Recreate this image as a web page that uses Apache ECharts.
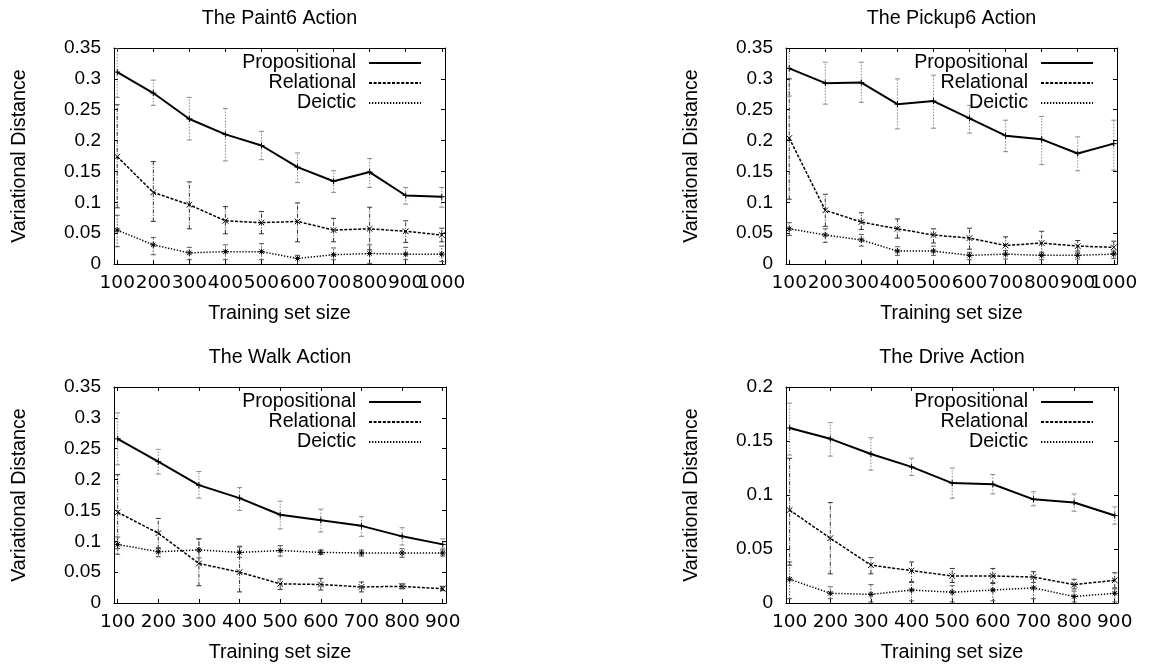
<!DOCTYPE html>
<html><head><meta charset="utf-8">
<script src="https://cdn.jsdelivr.net/npm/echarts@6/dist/echarts.min.js"></script>
<style>html,body{margin:0;padding:0;background:#fff}#c{width:1150px;height:669px}</style>
</head><body><div id="c"></div>
<script>
// ---------- DATA ----------
const sizes10 = [100, 200, 300, 400, 500, 600, 700, 800, 900, 1000];
const sizes9 = [100, 200, 300, 400, 500, 600, 700, 800, 900];
const seriesNames = ['Propositional', 'Relational', 'Deictic'];
const panelTitles = ['The Paint6 Action', 'The Pickup6 Action', 'The Walk Action', 'The Drive Action'];
const xAxisTitle = 'Training set size';
const yAxisTitle = 'Variational Distance';

// Paint6
const paint6Prop   = [0.311, 0.277, 0.235, 0.210, 0.192, 0.157, 0.134, 0.149, 0.111, 0.109];
const paint6PropLo = [0.270, 0.257, 0.201, 0.167, 0.169, 0.132, 0.116, 0.124, 0.097, 0.092];
const paint6PropHi = [0.360, 0.298, 0.270, 0.252, 0.215, 0.180, 0.151, 0.171, 0.124, 0.124];
const paint6Rel    = [0.174, 0.116, 0.096, 0.070, 0.067, 0.069, 0.055, 0.057, 0.053, 0.047];
const paint6RelLo  = [0.091, 0.069, 0.057, 0.049, 0.049, 0.036, 0.036, 0.023, 0.035, 0.036];
const paint6RelHi  = [0.258, 0.166, 0.133, 0.093, 0.085, 0.099, 0.074, 0.092, 0.070, 0.058];
const paint6Dei    = [0.055, 0.031, 0.018, 0.020, 0.020, 0.009, 0.015, 0.017, 0.016, 0.016];
const paint6DeiLo  = [0.028, 0.015, 0.007, 0.007, 0.007, -0.004, 0.007, 0.001, 0.007, 0.004];
const paint6DeiHi  = [0.079, 0.043, 0.027, 0.031, 0.033, 0.014, 0.026, 0.031, 0.027, 0.029];

// Pickup6
const pickup6Prop   = [0.317, 0.293, 0.294, 0.259, 0.264, 0.236, 0.208, 0.202, 0.179, 0.195];
const pickup6PropLo = [0.272, 0.259, 0.262, 0.219, 0.220, 0.212, 0.182, 0.161, 0.151, 0.152];
const pickup6PropHi = [0.360, 0.327, 0.327, 0.300, 0.306, 0.257, 0.233, 0.239, 0.206, 0.233];
const pickup6Rel    = [0.204, 0.087, 0.068, 0.057, 0.047, 0.042, 0.030, 0.034, 0.029, 0.027];
const pickup6RelLo  = [0.105, 0.061, 0.056, 0.042, 0.034, 0.024, 0.015, 0.015, 0.021, 0.017];
const pickup6RelHi  = [0.300, 0.113, 0.083, 0.073, 0.057, 0.058, 0.044, 0.053, 0.038, 0.037];
const pickup6Dei    = [0.057, 0.047, 0.039, 0.021, 0.021, 0.014, 0.016, 0.014, 0.014, 0.016];
const pickup6DeiLo  = [0.046, 0.035, 0.029, 0.014, 0.014, 0.007, 0.008, 0.007, 0.008, 0.009];
const pickup6DeiHi  = [0.067, 0.057, 0.048, 0.028, 0.029, 0.019, 0.022, 0.019, 0.018, 0.021];

// Walk
const walkProp   = [0.266, 0.229, 0.191, 0.170, 0.143, 0.134, 0.125, 0.108, 0.095];
const walkPropLo = [0.224, 0.209, 0.170, 0.150, 0.120, 0.115, 0.108, 0.094, 0.088];
const walkPropHi = [0.308, 0.249, 0.213, 0.187, 0.165, 0.152, 0.140, 0.122, 0.104];
const walkRel    = [0.147, 0.113, 0.064, 0.050, 0.031, 0.030, 0.026, 0.027, 0.023];
const walkRelLo  = [0.088, 0.088, 0.028, 0.018, 0.022, 0.021, 0.018, 0.023, 0.020];
const walkRelHi  = [0.208, 0.137, 0.104, 0.091, 0.039, 0.040, 0.034, 0.031, 0.027];
const walkDei    = [0.095, 0.083, 0.086, 0.082, 0.085, 0.082, 0.081, 0.081, 0.081];
const walkDeiLo  = [0.079, 0.075, 0.073, 0.074, 0.076, 0.079, 0.076, 0.074, 0.076];
const walkDeiHi  = [0.107, 0.090, 0.104, 0.092, 0.093, 0.086, 0.086, 0.088, 0.086];

// Drive
const driveProp   = [0.162, 0.152, 0.138, 0.126, 0.111, 0.110, 0.096, 0.093, 0.081];
const drivePropLo = [0.137, 0.136, 0.123, 0.118, 0.097, 0.101, 0.090, 0.085, 0.073];
const drivePropHi = [0.185, 0.167, 0.153, 0.134, 0.125, 0.119, 0.103, 0.101, 0.089];
const driveRel    = [0.086, 0.060, 0.035, 0.030, 0.025, 0.025, 0.024, 0.017, 0.021];
const driveRelLo  = [0.035, 0.027, 0.027, 0.019, 0.019, 0.018, 0.019, 0.013, 0.014];
const driveRelHi  = [0.134, 0.093, 0.042, 0.038, 0.032, 0.032, 0.029, 0.022, 0.028];
const driveDei    = [0.022, 0.009, 0.008, 0.012, 0.010, 0.012, 0.014, 0.006, 0.009];
const driveDeiLo  = [0.004, 0.004, 0.001, 0.002, 0.001, 0.002, 0.004, 0.001, 0.001];
const driveDeiHi  = [0.038, 0.015, 0.017, 0.020, 0.016, 0.019, 0.019, 0.011, 0.013];

// ---------- PANELS ----------
const panels = [
  { title: panelTitles[0], x: sizes10, xMin: 91, xMax: 1009, yMax: 0.35,
    data: { Propositional: [paint6Prop, paint6PropLo, paint6PropHi], Relational: [paint6Rel, paint6RelLo, paint6RelHi], Deictic: [paint6Dei, paint6DeiLo, paint6DeiHi] } },
  { title: panelTitles[1], x: sizes10, xMin: 91, xMax: 1009, yMax: 0.35,
    data: { Propositional: [pickup6Prop, pickup6PropLo, pickup6PropHi], Relational: [pickup6Rel, pickup6RelLo, pickup6RelHi], Deictic: [pickup6Dei, pickup6DeiLo, pickup6DeiHi] } },
  { title: panelTitles[2], x: sizes9, xMin: 91, xMax: 908, yMax: 0.35,
    data: { Propositional: [walkProp, walkPropLo, walkPropHi], Relational: [walkRel, walkRelLo, walkRelHi], Deictic: [walkDei, walkDeiLo, walkDeiHi] } },
  { title: panelTitles[3], x: sizes9, xMin: 91, xMax: 908, yMax: 0.2,
    data: { Propositional: [driveProp, drivePropLo, drivePropHi], Relational: [driveRel, driveRelLo, driveRelHi], Deictic: [driveDei, driveDeiLo, driveDeiHi] } }
];

// ---------- LAYOUT / STYLE ----------
const FONT = '"Liberation Sans", Arial, Helvetica, sans-serif';
const layout = [
  { left: 114, top: 48,  width: 331, height: 216, legendRight: 728, legendTop: 53 },
  { left: 786, top: 48,  width: 331, height: 216, legendRight: 56,  legendTop: 53 },
  { left: 114, top: 387, width: 332, height: 216, legendRight: 728, legendTop: 392 },
  { left: 786, top: 387, width: 332, height: 216, legendRight: 56,  legendTop: 392 }
];
const lineStyles = {
  Propositional: { type: 'solid', width: 2 },
  Relational: { type: [3, 1.6], width: 1.5 },
  Deictic: { type: [1.3, 1.7], width: 1.5 }
};
const errStyles = {
  Propositional: { stroke: '#8c8c8c', lineDash: [1.5, 1.5] },
  Relational: { stroke: '#333333', lineDash: [4, 1.5, 1, 1.5] },
  Deictic: { stroke: '#555555', lineDash: [1.5, 1.5] }
};
const markerSegs = {
  Propositional: [[-3, 0, 3, 0], [0, -3, 0, 3]],
  Relational: [[-2.8, -2.8, 2.8, 2.8], [-2.8, 2.8, 2.8, -2.8]],
  Deictic: [[-3, 0, 3, 0], [0, -3, 0, 3], [-2.2, -2.2, 2.2, 2.2], [-2.2, 2.2, 2.2, -2.2]]
};

function makeRender(name) {
  const st = errStyles[name];
  return function (params, api) {
    const x = api.value(0);
    const pLo = api.coord([x, api.value(1)]);
    const pHi = api.coord([x, api.value(2)]);
    const pc = api.coord([x, api.value(3)]);
    const cw = 2.5;
    const children = [
      { type: 'line', shape: { x1: pLo[0], y1: pLo[1], x2: pHi[0], y2: pHi[1] }, style: { stroke: st.stroke, lineWidth: 1, lineDash: st.lineDash } },
      { type: 'line', shape: { x1: pLo[0] - cw, y1: pLo[1], x2: pLo[0] + cw, y2: pLo[1] }, style: { stroke: st.stroke, lineWidth: 1 } },
      { type: 'line', shape: { x1: pHi[0] - cw, y1: pHi[1], x2: pHi[0] + cw, y2: pHi[1] }, style: { stroke: st.stroke, lineWidth: 1 } }
    ];
    markerSegs[name].forEach(s => children.push({
      type: 'line', shape: { x1: pc[0] + s[0], y1: pc[1] + s[1], x2: pc[0] + s[2], y2: pc[1] + s[3] },
      style: { stroke: '#000', lineWidth: 1 }, z2: 10
    }));
    return { type: 'group', children };
  };
}

const txt = { fontSize: 19.7, color: '#000', fontFamily: FONT };
const yTickTxt = { fontSize: 19, color: '#000', fontFamily: FONT };
const xTickTxt = { fontSize: 18.5, color: '#000', fontFamily: '"DejaVu Sans", sans-serif' };
const plain = v => String(v);
const option = {
  animation: false, backgroundColor: '#fff', textStyle: { fontFamily: FONT },
  grid: [], xAxis: [], yAxis: [], series: [], legend: []
};

panels.forEach((p, i) => {
  const L = layout[i];
  option.grid.push({ left: L.left, top: L.top, width: L.width, height: L.height, containLabel: false });
  const axisLine = { show: true, onZero: false, lineStyle: { color: '#000', width: 1 } };
  const tick = { show: true, inside: true, length: 4, lineStyle: { color: '#000', width: 1 } };
  const mainLabels = p.x.slice(0, -1);
  const lastLabel = p.x.slice(-1);
  // bottom axis (ticks + all labels except the last)
  option.xAxis.push({
    type: 'value', gridIndex: i, position: 'bottom', min: p.xMin, max: p.xMax,
    axisLine, axisTick: Object.assign({ customValues: p.x }, tick),
    axisLabel: Object.assign({ customValues: mainLabels, margin: 10, formatter: plain, showMinLabel: true, showMaxLabel: true, hideOverlap: false }, xTickTxt),
    splitLine: { show: false },
    name: xAxisTitle, nameLocation: 'middle', nameGap: 40, nameTextStyle: txt
  });
  // top mirror axis with the panel title
  option.xAxis.push({
    type: 'value', gridIndex: i, position: 'top', min: p.xMin, max: p.xMax,
    axisLine, axisTick: Object.assign({ customValues: p.x }, tick),
    axisLabel: { show: false }, splitLine: { show: false },
    name: p.title, nameLocation: 'middle', nameGap: 19, nameTextStyle: txt
  });
  // bottom overlay axis carrying the last tick label (crowded like the original)
  option.xAxis.push({
    type: 'value', gridIndex: i, position: 'bottom', min: p.xMin, max: p.xMax,
    axisLine: { show: false, onZero: false }, axisTick: { show: false },
    axisLabel: Object.assign({ customValues: lastLabel, margin: 10, formatter: plain, showMinLabel: true, showMaxLabel: true }, xTickTxt),
    splitLine: { show: false }
  });
  option.yAxis.push({
    type: 'value', gridIndex: i, position: 'left', min: 0, max: p.yMax, interval: 0.05,
    axisLine, axisTick: tick, axisLabel: Object.assign({ margin: 13, showMinLabel: true, showMaxLabel: true }, yTickTxt),
    splitLine: { show: false },
    name: yAxisTitle, nameLocation: 'middle', nameGap: 84, nameRotate: 90, nameTextStyle: txt
  });
  option.yAxis.push({
    type: 'value', gridIndex: i, position: 'right', min: 0, max: p.yMax, interval: 0.05,
    axisLine, axisTick: tick, axisLabel: { show: false }, splitLine: { show: false }
  });

  seriesNames.forEach((name, j) => {
    const [vals, lo, hi] = p.data[name];
    option.series.push({
      type: 'custom', name: name + ' error', xAxisIndex: 3 * i, yAxisIndex: 2 * i,
      data: p.x.map((x, k) => [x, lo[k], hi[k], vals[k]]),
      encode: { x: 0, y: [1, 2, 3] }, renderItem: makeRender(name), clip: true, silent: true, z: 2
    });
    option.series.push({
      type: 'line', name, xAxisIndex: 3 * i, yAxisIndex: 2 * i,
      data: p.x.map((x, k) => [x, vals[k]]), symbol: 'none', silent: true, z: 3,
      lineStyle: Object.assign({ color: '#000' }, lineStyles[name]), itemStyle: { color: '#000' }
    });
    option.legend.push({
      data: [name], right: L.legendRight, top: L.legendTop + 20 * j, orient: 'horizontal', align: 'right',
      itemWidth: 52, itemHeight: 10, padding: 0, selectedMode: false,
      itemStyle: { opacity: 0, color: 'transparent', borderWidth: 0 },
      textStyle: Object.assign({ lineHeight: 19, padding: [0, 8, 0, 0] }, txt)
    });
  });
});

const chart = echarts.init(document.getElementById('c'), null, { renderer: 'canvas' });
chart.setOption(option);
</script></body></html>
